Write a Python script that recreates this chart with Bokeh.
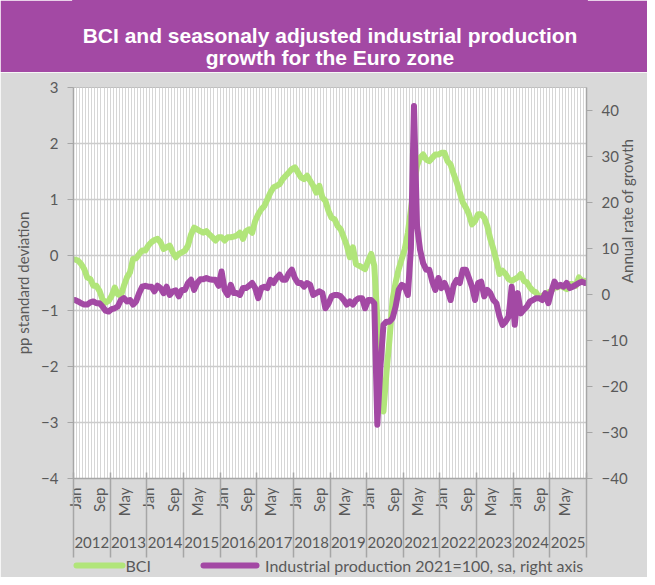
import math
from bokeh.plotting import figure
from bokeh.models import (Range1d, LinearAxis, FixedTicker, Label, ColumnDataSource)
from bokeh.layouts import column
from bokeh.embed import file_html
from bokeh.resources import INLINE
from bokeh.core.validation import silence
from bokeh.core.validation.warnings import MISSING_RENDERERS

silence(MISSING_RENDERERS, True)

# ---------------- data ----------------
years = [str(y) for y in range(2012, 2026)]
month_names = ["Jan", "Feb", "Mar", "Apr", "May", "Jun",
               "Jul", "Aug", "Sep", "Oct", "Nov", "Dec"]
series_names = ["BCI", "Industrial production 2021=100, sa, right axis"]

bci = [-0.08, -0.10, -0.16, -0.25, -0.40, -0.43, -0.55, -0.55, -0.64, -0.79, -0.85, -0.82,
       -0.73, -0.58, -0.70, -0.73, -0.55, -0.40, -0.31, -0.07, -0.06, 0.02, 0.08, 0.08,
       0.17, 0.23, 0.27, 0.29, 0.23, 0.11, 0.14, 0.17, 0.05, -0.04, 0.02, 0.05,
       0.08, 0.17, 0.37, 0.49, 0.46, 0.43, 0.40, 0.43, 0.37, 0.32, 0.26, 0.32,
       0.32, 0.26, 0.32, 0.32, 0.33, 0.35, 0.40, 0.29, 0.43, 0.46, 0.40, 0.61,
       0.73, 0.82, 0.88, 1.00, 1.12, 1.21, 1.24, 1.27, 1.36, 1.42, 1.48, 1.54,
       1.57, 1.48, 1.39, 1.36, 1.42, 1.33, 1.24, 1.12, 1.24, 1.03, 0.97, 0.79,
       0.67, 0.64, 0.52, 0.46, 0.32, 0.17, -0.04, 0.14, -0.16, -0.19, -0.22, -0.25,
       -0.10, 0.02, -0.19, -1.14, -2.45, -2.80, -2.10, -1.50, -0.79, -0.49, -0.25, -0.07,
       0.11, 0.40, 0.82, 1.24, 1.60, 1.74, 1.80, 1.71, 1.68, 1.74, 1.80, 1.80,
       1.83, 1.83, 1.68, 1.62, 1.45, 1.30, 1.12, 0.94, 0.85, 0.73, 0.55, 0.61,
       0.73, 0.73, 0.67, 0.52, 0.29, 0.11, -0.10, -0.34, -0.28, -0.34, -0.43, -0.46,
       -0.43, -0.40, -0.34, -0.46, -0.49, -0.58, -0.64, -0.67, -0.76, -0.73, -0.70, -0.67,
       -0.64, -0.58, -0.58, -0.55, -0.58, -0.61, -0.52, -0.52, -0.55, -0.40, -0.46, -0.46]

ip = [-1.2, -1.5, -1.9, -2.2, -2.2, -1.7, -1.5, -1.9, -1.9, -2.6, -3.5, -3.7,
      -3.2, -3.0, -2.6, -1.2, -0.8, -1.5, -1.2, -2.2, -1.5, 0.3, 1.7, 1.9,
      1.7, 1.7, 0.7, 1.9, 1.4, 0.3, 1.7, -0.1, 0.7, 0.9, -0.4, 1.0,
      1.0, 2.5, 3.2, 1.0, 2.5, 3.3, 3.3, 3.6, 3.3, 3.2, 3.2, 1.9,
      5.0, 1.0, -0.1, 2.1, 0.3, 0.3, -0.1, 1.4, 1.4, 1.9, 2.5, 1.4,
      -0.8, 1.4, 1.7, 1.4, 3.2, 2.5, 3.6, 4.3, 3.2, 3.2, 4.6, 5.4,
      3.6, 2.5, 2.5, 1.7, 2.5, 2.1, -0.1, 0.3, 0.7, 0.3, -3.0, -2.0,
      -0.4, -0.1, -0.1, -0.4, -1.2, -2.2, -1.5, -2.2, -1.2, -0.8, -0.8, -3.0,
      -1.2, -1.2, -1.9, -28.3, -16.0, -6.6, -5.9, -5.9, -5.1, -2.6, 1.0, 2.1,
      1.7, -0.1, 10.0, 41.0, 15.0, 9.7, 6.8, 5.4, 5.4, 2.8, 1.0, 3.6,
      1.4, 2.5, 1.0, -1.2, 2.0, 3.2, 2.5, 5.4, 5.4, 3.6, 1.7, -1.2,
      2.5, 2.8, -0.4, 1.0, 0.3, -1.2, -1.9, -4.8, -6.6, -5.9, -4.8, 1.7,
      -6.6, 0.3, -4.1, -3.3, -2.6, -1.5, -1.2, -0.8, -0.8, -1.2, 0.3, -1.9,
      0.7, 2.8, 1.7, 2.1, 1.7, 2.5, 1.4, 1.7, 2.1, 2.5, 2.8, 2.5]

left_ticks = [-4, -3, -2, -1, 0, 1, 2, 3]
right_ticks = [-40, -30, -20, -10, 0, 10, 20, 30, 40]

n = len(bci)
months = list(range(n))
src = ColumnDataSource(dict(m=months, bci=bci, ip=ip))

GREEN = "#b1e57a"
PURPLE = "#a349a4"
BG = "#d9d9d9"
TXT = "#595959"
AX = "#a6a6a6"
FONT = "Lato"
W = 647

# ---------------- title bar ----------------
t = figure(width=W, height=72, x_range=Range1d(0, 1), y_range=Range1d(0, 1),
           output_backend="svg", toolbar_location=None, min_border=0,
           x_axis_location=None, y_axis_location=None,
           background_fill_color=PURPLE, border_fill_color=PURPLE,
           outline_line_color=PURPLE, outline_line_width=3)
t.grid.visible = False
title_lines = ["BCI and seasonaly adjusted industrial production",
               "growth for the Euro zone"]
for txt, yy in zip(title_lines, [0.514, 0.208]):
    t.add_layout(Label(x=0.5, y=yy, text=txt, text_align="center",
                       text_baseline="middle", text_color="white",
                       text_font="Liberation Sans", text_font_style="bold",
                       text_font_size="21px"))

# ---------------- main chart ----------------
p = figure(width=W, height=505, x_range=Range1d(-0.5, n - 0.5),
           y_range=Range1d(-4, 3), output_backend="svg", toolbar_location=None,
           x_axis_location=None, y_axis_location=None,
           min_border_left=73, min_border_right=59, min_border_top=15,
           min_border_bottom=99,
           background_fill_color="white", border_fill_color=BG,
           outline_line_color="#bfbfbf")
p.extra_y_ranges = {"ip": Range1d(-40, 45)}
p.extra_x_ranges = {"yr": Range1d(0, 2 * len(years)), "lg": Range1d(0, 515)}

p.xgrid.ticker = FixedTicker(ticks=[i - 0.5 for i in range(1, n)])
p.xgrid.grid_line_color = "#d6d6d6"
p.xgrid.grid_line_width = 1
p.ygrid.ticker = FixedTicker(ticks=left_ticks[1:-1])
p.ygrid.grid_line_color = "#cccccc"
p.ygrid.grid_line_width = 1.5

la = LinearAxis(ticker=FixedTicker(ticks=left_ticks), axis_label="pp standard deviation")
ra = LinearAxis(y_range_name="ip", ticker=FixedTicker(ticks=right_ticks),
                axis_label="Annual rate of growth")
for ax in (la, ra):
    ax.axis_line_color = AX
    ax.axis_line_width = 1.5
    ax.major_tick_line_color = AX
    ax.major_tick_out = 6
    ax.major_tick_in = 0
    ax.minor_tick_line_color = None
    ax.major_label_text_color = TXT
    ax.major_label_text_font = FONT
    ax.major_label_text_font_size = "15px"
    ax.major_label_standoff = 9
    ax.axis_label_text_color = TXT
    ax.axis_label_text_font = FONT
    ax.axis_label_text_font_size = "15px"
    ax.axis_label_text_font_style = "normal"
    ax.axis_label_standoff = 6
if "axis_label_orientation" in ra.properties():
    ra.axis_label_orientation = math.pi / 2
ra.major_label_standoff = 9
ra.axis_label_standoff = -4
p.add_layout(la, "left")
p.add_layout(ra, "right")

# month axis (labels every 8 months)
label_pos = list(range(0, n, 8))
overrides = {i: month_names[i % 12] for i in label_pos}
ma = LinearAxis(ticker=FixedTicker(ticks=label_pos),
                major_label_overrides=overrides,
                major_label_orientation=math.pi / 2)
ma.axis_line_color = AX
ma.axis_line_width = 1.5
ma.major_tick_line_color = None
ma.major_tick_out = 0
ma.major_tick_in = 0
ma.minor_tick_line_color = None
ma.major_label_text_color = TXT
ma.major_label_text_font = FONT
ma.major_label_text_font_size = "15px"
ma.major_label_standoff = 9
p.add_layout(ma, "below")

# year axis
yr_pos = [2 * k + 1 for k in range(len(years))]
ya = LinearAxis(x_range_name="yr", ticker=FixedTicker(ticks=yr_pos),
                major_label_overrides={pos: y for pos, y in zip(yr_pos, years)})
ya.axis_line_color = None
ya.major_tick_line_color = None
ya.minor_tick_line_color = None
ya.major_tick_out = 0
ya.major_tick_in = 0
ya.major_label_text_color = TXT
ya.major_label_text_font = FONT
ya.major_label_text_font_size = "15px"
ya.major_label_standoff = 17
p.add_layout(ya, "below")

# year separators: ticks pointing up through the two label rows
year_bounds = [12 * k - 0.5 for k in range(len(years) + 1)]
sa = LinearAxis(ticker=FixedTicker(ticks=year_bounds))
sa.axis_line_color = None
sa.major_tick_line_color = AX
sa.major_tick_line_width = 1.5
sa.major_tick_in = 78
sa.major_tick_out = 7
sa.minor_tick_line_color = None
sa.major_label_text_alpha = 0
sa.major_label_text_font_size = "1px"
sa.major_label_standoff = 0
p.add_layout(sa, "below")

# series
g = p.line("m", "bci", source=src, line_color=GREEN, line_width=6,
           line_join="round", line_cap="round")
r = p.line("m", "ip", source=src, y_range_name="ip", line_color=PURPLE,
           line_width=6, line_join="round", line_cap="round")

# legend row (drawn with axes so it sits below the year labels)
spacer = LinearAxis(ticker=FixedTicker(ticks=[83]))
spacer.axis_line_color = None
spacer.major_tick_line_color = None
spacer.minor_tick_line_color = None
spacer.major_tick_out = 8
spacer.major_tick_in = 0
spacer.major_label_text_alpha = 0
spacer.major_label_text_font_size = "1px"
spacer.major_label_standoff = 0
p.add_layout(spacer, "below")

for col, bnd in zip([GREEN, PURPLE], [(3, 49), (131, 184)]):
    sw = LinearAxis(x_range_name="lg", ticker=FixedTicker(ticks=[]), bounds=bnd)
    sw.axis_line_color = col
    sw.axis_line_width = 6
    sw.axis_line_cap = "round"
    sw.major_tick_out = 0
    sw.major_tick_in = 0
    sw.major_label_standoff = 0
    p.add_layout(sw, "below")

lg_pos = [65, 352]
lgax = LinearAxis(x_range_name="lg", ticker=FixedTicker(ticks=lg_pos),
                  major_label_overrides={pos: s for pos, s in zip(lg_pos, series_names)})
lgax.axis_line_color = None
lgax.major_tick_line_color = None
lgax.minor_tick_line_color = None
lgax.major_tick_out = 0
lgax.major_tick_in = 0
lgax.major_label_standoff = -10
lgax.major_label_text_color = TXT
lgax.major_label_text_font = FONT
lgax.major_label_text_font_size = "16px"
p.add_layout(lgax, "below")

layout = column(t, p, spacing=0)
open("out.html", "w").write(file_html(layout, INLINE))
